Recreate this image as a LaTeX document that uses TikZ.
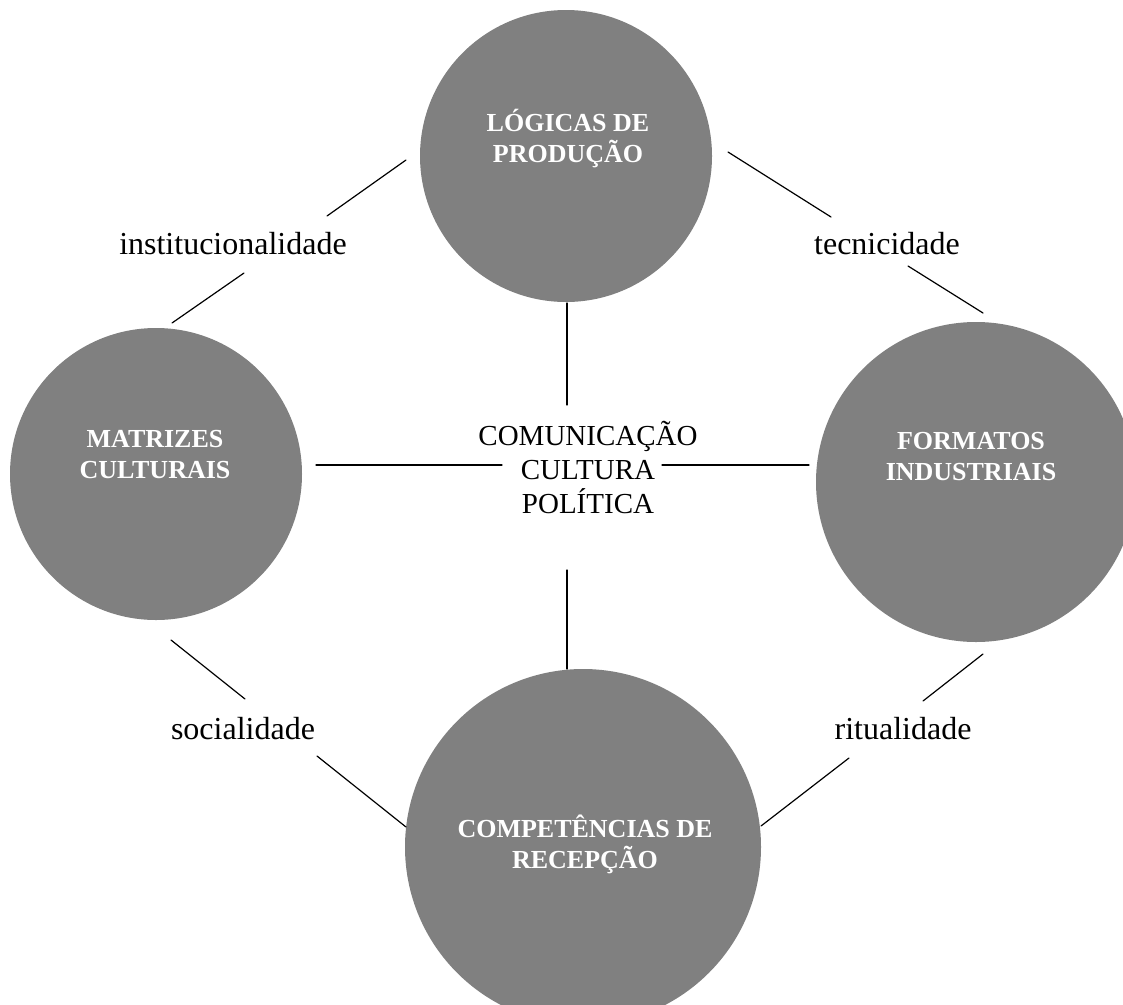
\documentclass[tikz,border=0pt]{standalone}
\usepackage{fontspec}
\setmainfont{Liberation Serif}
\usepackage{xcolor}
\usepackage{tikz}
\usetikzlibrary{calc}
\definecolor{hubGray}{RGB}{128,128,128}
\tikzset{
	hub/.style={circle, fill=hubGray, inner sep=0pt},
	hubtext/.style={text=white, align=center, inner sep=0pt, font=\bfseries\fontsize{26}{31}\selectfont},
	mediation/.style={inner sep=0pt, font=\fontsize{32}{36}\selectfont},
	core/.style={inner sep=0pt, align=center, font=\fontsize{29}{34}\selectfont},
	link/.style={line width=1.2pt, black}
}

\begin{document}
\begin{tikzpicture}[x=1pt, y=-1pt, line cap = round]
	\useasboundingbox (0,0) rectangle (1123,1004);
	\clip (0,0) rectangle (1123,1004);
	% \draw[gray!30] (0,0) grid[step=50pt] (1123,1004);

	% circulos
	\node[hub, minimum size=292pt] (logicas) at (566,156) {};
	\node[hub, minimum size=292pt] (matrizes) at (156,474) {};
	\node[hub, minimum size=320pt] (formatos) at (976,482) {};
	\node[hub, minimum size=356pt] (competencias) at (583,847) {};

	\node[hubtext] (logicasTxt) at (568,139) {LÓGICAS DE\\PRODUÇÃO};
	\node[hubtext] (matrizesTxt) at (155,455) {MATRIZES\\CULTURAIS};
	\node[hubtext] (formatosTxt) at (971,457) {FORMATOS\\INDUSTRIAIS};
	\node[hubtext] (competenciasTxt) at (585,844) {COMPETÊNCIAS DE\\RECEPÇÃO};

	% mediacoes
	\node[mediation] (institucionalidade) at (233,244) {institucionalidade};
	\node[mediation] (tecnicidade) at (887,244) {tecnicidade};
	\node[mediation] (socialidade) at (243,729) {socialidade};
	\node[mediation] (ritualidade) at (903,729) {ritualidade};
	\node[core] (centro) at (588,467) {COMUNICAÇÃO\\CULTURA\\POLÍTICA};

	% pontas das linhas
	\coordinate (instA) at (406,160);
	\coordinate (instB) at (327,216);
	\coordinate (instC) at (244,273);
	\coordinate (instD) at (172,323);
	\coordinate (tecA) at (728,152);
	\coordinate (tecB) at (831,217);
	\coordinate (tecC) at (908,266);
	\coordinate (tecD) at (983,313);
	\coordinate (socA) at (171,640);
	\coordinate (socB) at (245,699);
	\coordinate (socC) at (317,756);
	\coordinate (socD) at (406,827);
	\coordinate (ritA) at (983,654);
	\coordinate (ritB) at (923,701);
	\coordinate (ritC) at (849,758);
	\coordinate (ritD) at (761,826);
	\coordinate (vertA) at (567,303);
	\coordinate (vertB) at (567,405);
	\coordinate (vertC) at (567,570);
	\coordinate (vertD) at (567,669);
	\coordinate (horA) at (316,465);
	\coordinate (horB) at (502,465);
	\coordinate (horC) at (662,465);
	\coordinate (horD) at (809,465);

	\draw[link] (instA) -- (instB) (instC) -- (instD);
	\draw[link] (tecA) -- (tecB) (tecC) -- (tecD);
	\draw[link] (socA) -- (socB) (socC) -- (socD);
	\draw[link] (ritA) -- (ritB) (ritC) -- (ritD);
	\draw[link] (vertA) -- (vertB) (vertC) -- (vertD);
	\draw[link] (horA) -- (horB) (horC) -- (horD);

\end{tikzpicture}
\end{document}
